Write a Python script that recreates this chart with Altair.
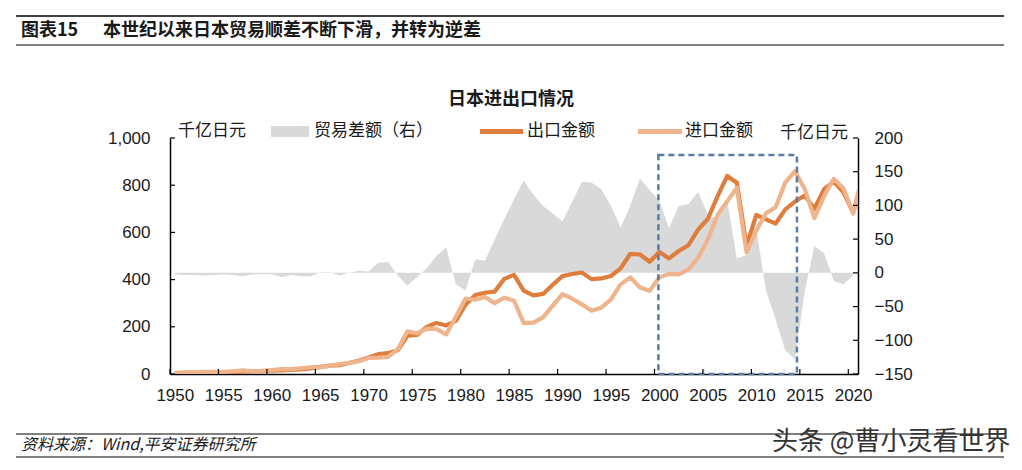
import altair as alt
import pandas as pd

# ---------------- data (100 billion yen) ----------------
years = [1950, 1951, 1952, 1953, 1954, 1955, 1956, 1957, 1958, 1959,
         1960, 1961, 1962, 1963, 1964, 1965, 1966, 1967, 1968, 1969,
         1970, 1971, 1972, 1973, 1974, 1975, 1976, 1977, 1978, 1979,
         1980, 1981, 1982, 1983, 1984, 1985, 1986, 1987, 1988, 1989,
         1990, 1991, 1992, 1993, 1994, 1995, 1996, 1997, 1998, 1999,
         2000, 2001, 2002, 2003, 2004, 2005, 2006, 2007, 2008, 2009,
         2010, 2011, 2012, 2013, 2014, 2015, 2016, 2017, 2018, 2019,
         2020, 2021]

export_vals = [3.0, 4.9, 4.6, 4.6, 5.9, 7.2, 9.0, 10.3, 10.4, 12.4,
               14.6, 15.2, 17.6, 19.6, 24.0, 30.4, 35.2, 37.6, 46.8, 57.6,
               69.5, 83.9, 88.1, 100.3, 162.1, 165.5, 199.3, 216.5, 205.6, 225.2,
               293.8, 334.7, 344.3, 349.1, 403.3, 420.0, 352.9, 333.2, 339.4, 378.2,
               414.6, 423.6, 430.1, 402.0, 404.9, 415.3, 447.3, 509.4, 506.4, 475.5,
               516.5, 489.8, 521.1, 545.5, 611.7, 656.6, 752.5, 839.3, 810.2, 541.7,
               673.9, 655.5, 637.5, 697.7, 730.9, 756.1, 700.4, 782.9, 814.8, 769.3,
               683.4, 830.9]

import_vals = [3.5, 7.4, 7.3, 8.7, 8.6, 8.9, 11.6, 15.4, 10.9, 13.0,
               16.2, 21.0, 20.3, 24.3, 28.6, 29.4, 34.3, 41.9, 46.8, 54.3,
               68.0, 69.1, 72.3, 104.0, 180.8, 171.7, 192.3, 191.3, 167.3, 242.5,
               319.9, 314.6, 326.6, 300.1, 323.2, 310.8, 215.5, 217.4, 240.1, 289.8,
               338.6, 319.0, 295.3, 268.3, 281.0, 315.5, 379.9, 409.6, 366.5, 352.7,
               409.4, 424.2, 422.3, 443.6, 492.2, 569.5, 673.4, 731.4, 789.5, 514.9,
               607.6, 681.1, 706.9, 812.4, 859.1, 784.1, 660.4, 753.8, 827.0, 785.9,
               680.1, 848.8]

balance_years = years[:71]
balance_vals = [-2, -3, -3, -4, -3, -2, -3, -5, -2, -2,
                -2, -6, -3, -5, -5, 1, 1, -4, 0, 3,
                2, 15, 16, -4, -19, -6, 7, 25, 38, -17,
                -26, 20, 18, 49, 80, 109, 137, 116, 99, 88,
                76, 105, 135, 134, 124, 100, 67, 100, 140, 123,
                107, 66, 99, 102, 120, 87, 79, 108, 21, 27,
                66, -26, -69, -115, -128, -28, 40, 29, -12, -17,
                -4]

x_tick_years = [1950, 1955, 1960, 1965, 1970, 1975, 1980, 1985, 1990, 1995,
                2000, 2005, 2010, 2015, 2020]
left_ticks = [0, 200, 400, 600, 800, 1000]
right_ticks = [-150, -100, -50, 0, 50, 100, 150, 200]
box_years = [2000.4, 2014.7]
box_levels = [0, 928]

header_label = "图表15"
header_text = "本世纪以来日本贸易顺差不断下滑，并转为逆差"
chart_title = "日本进出口情况"
unit_text = "千亿日元"
legend_labels = ["贸易差额（右）", "出口金额", "进口金额"]
source_text = "资料来源：Wind,平安证券研究所"
watermark = "头条 @曹小灵看世界"

# ---------------- style ----------------
W, H = 688, 236
CJK = "Noto Sans CJK SC"
NUM = "Liberation Sans"
EXP_C = "#DF7D3C"
IMP_C = "#F0B48C"
GRAY = "#D9D9D9"
BOX_C = "#5A7BA3"
TXT = "#1a1a1a"

lines_df = pd.DataFrame({"year": years, "export": export_vals, "import": import_vals})
bal_df = pd.DataFrame({"year": balance_years, "bal": balance_vals})

xscale = alt.Scale(domain=[1950, 2021], nice=False, zero=False)
lscale = alt.Scale(domain=[0, 1000], nice=False, zero=False)
rscale = alt.Scale(domain=[-150, 200], nice=False, zero=False)

x_axis = alt.Axis(values=x_tick_years, format="d", labelOffset=4.8, labelPadding=13,
                  title=None, ticks=False, grid=False, domainColor="black",
                  domainWidth=1.5, labelFontSize=17, labelFont=NUM, labelColor=TXT,
                  labelFlush=False, labelOverlap=False)
left_axis = alt.Axis(orient="left", values=left_ticks, format=",.0f", labelPadding=20,
                     title=None, ticks=False, grid=False, domainColor="black",
                     domainWidth=1.5, labelFontSize=17, labelFont=NUM, labelColor=TXT)
right_axis = alt.Axis(orient="right", values=right_ticks, format="d", labelPadding=16,
                      title=None, ticks=False, grid=False, domainColor="black",
                      domainWidth=1.5, labelFontSize=17, labelFont=NUM, labelColor=TXT)


def xenc(field):
    return alt.X(field, type="quantitative", scale=xscale, axis=x_axis)


area = alt.Chart(bal_df).transform_calculate(
    xpos="datum.year + 0.5", zero="0"
).mark_area(color=GRAY, clip=True).encode(
    x=xenc("xpos"),
    y=alt.Y("bal:Q", scale=rscale, axis=right_axis),
    y2=alt.Y2("zero"),
)

export_line = alt.Chart(lines_df).transform_calculate(
    xpos="datum.year + 0.5"
).mark_line(color=EXP_C, strokeWidth=4.2, clip=True, strokeJoin="round").encode(
    x=xenc("xpos"),
    y=alt.Y("export:Q", scale=lscale, axis=left_axis),
)

import_line = alt.Chart(lines_df).transform_calculate(
    xpos="datum.year + 0.5"
).mark_line(color=IMP_C, strokeWidth=4.2, clip=True, strokeJoin="round").encode(
    x=xenc("xpos"),
    y=alt.Y("import:Q", scale=lscale, axis=None),
)

box_df = pd.DataFrame({"x0": [box_years[0]], "x1": [box_years[1]],
                       "y0": [box_levels[0]], "y1": [box_levels[1]]})
box = alt.Chart(box_df).mark_rect(
    filled=False, stroke=BOX_C, strokeWidth=2.5, strokeDash=[6, 4]
).encode(
    x=xenc("x0"), x2="x1",
    y=alt.Y("y0:Q", scale=lscale, axis=None), y2="y1",
)

xt = alt.Chart(pd.DataFrame({"v": x_tick_years})).mark_rule(color="black", strokeWidth=1.2).encode(
    x=xenc("v"), y=alt.value(H), y2=alt.value(H - 5)
)
lt = alt.Chart(pd.DataFrame({"v": left_ticks})).mark_rule(color="black", strokeWidth=1.2).encode(
    y=alt.Y("v:Q", scale=lscale, axis=None), x=alt.value(0), x2=alt.value(5)
)
rt = alt.Chart(pd.DataFrame({"v": right_ticks})).mark_rule(color="black", strokeWidth=1.2).encode(
    y=alt.Y("v:Q", scale=rscale, axis=None), x=alt.value(W - 5), x2=alt.value(W)
)

one = pd.DataFrame({"a": [0]})


def txt(s, x, y, size=17, weight="normal", align="left", font=CJK, style="normal", color=TXT):
    return alt.Chart(pd.DataFrame({"t": [s]})).mark_text(
        fontSize=size, fontWeight=weight, align=align, baseline="middle",
        font=font, fontStyle=style, color=color
    ).encode(text="t:N", x=alt.value(x), y=alt.value(y))


def hline(x0, x1, y, width=1.0, color="black"):
    return alt.Chart(one).mark_rule(color=color, strokeWidth=width).encode(
        x=alt.value(x0), x2=alt.value(x1), y=alt.value(y)
    )


OX, OY = 170, 138  # plot origin on the page

decor = [
    hline(16 - OX, 1004 - OX, 16 - OY, 1.5),
    hline(16 - OX, 1004 - OX, 45 - OY, 1.2),
    txt(header_label, 21 - OX, 31 - OY, 18, "bold"),
    txt(header_text, 103 - OX, 31 - OY, 18, "bold"),
    txt(chart_title, 511 - OX, 100 - OY, 18, "bold", "center"),
    txt(unit_text, 178 - OX, 131 - OY, 17),
    txt(unit_text, 780 - OX, 133 - OY, 17),
    alt.Chart(one).mark_rect(color=GRAY).encode(
        x=alt.value(271 - OX), x2=alt.value(309 - OX),
        y=alt.value(126 - OY), y2=alt.value(137 - OY)),
    txt(legend_labels[0], 314 - OX, 131 - OY, 17),
    hline(480 - OX, 523 - OX, 131.5 - OY, 5, EXP_C),
    txt(legend_labels[1], 527 - OX, 131 - OY, 17),
    hline(638 - OX, 682 - OX, 131.5 - OY, 5, IMP_C),
    txt(legend_labels[2], 685 - OX, 131 - OY, 17),
    hline(16 - OX, 1004 - OX, 434 - OY, 1.2),
    hline(16 - OX, 1004 - OX, 457 - OY, 1.2),
    txt(source_text, 21 - OX, 445 - OY, 16, style="italic"),
    txt(watermark, 772 - OX, 442 - OY, 26, color="#333333"),
]

chart = alt.layer(area, export_line, import_line, box, xt, lt, rt, *decor).resolve_scale(
    y="independent"
).properties(
    width=W, height=H,
    autosize=alt.AutoSizeParams(type="none"),
    padding={"left": 162, "top": 130, "right": 156, "bottom": 88},
    background="white",
).configure_view(stroke=None)

chart.save("out.html", embed_options={"renderer": "svg", "actions": False})
